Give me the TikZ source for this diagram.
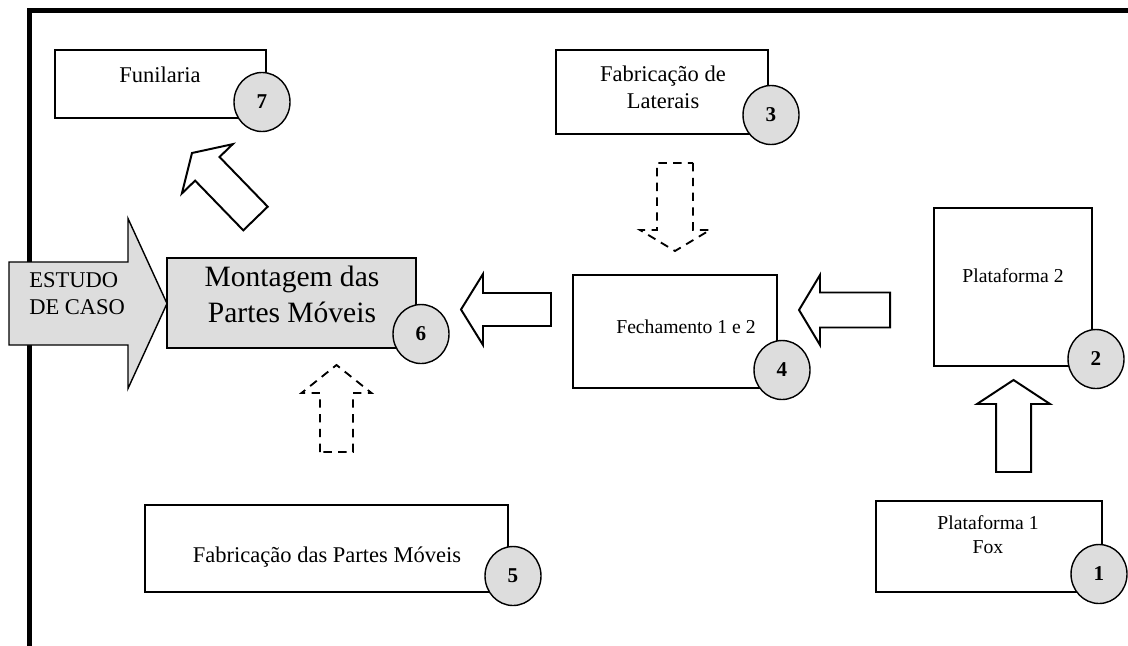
\documentclass[tikz,border=0pt]{standalone}
\usepackage{fontspec}
\setmainfont{Liberation Serif}
\usetikzlibrary{calc,shapes.geometric}

\definecolor{cellgray}{RGB}{221,221,221}
\def\pxu{0.025cm}

% block arrow: [style]{tail}{tip}{shaft half width}{head half width}{head length}
\newcommand{\blockarrow}[6][]{%
  \coordinate (ba-neck) at ($(#3)!#6*\pxu!(#2)$);
  \draw[#1] ($(#2)!#4*\pxu!90:(#3)$) -- ($(ba-neck)!#4*\pxu!90:(#3)$)
    -- ($(ba-neck)!#5*\pxu!90:(#3)$) -- (#3)
    -- ($(ba-neck)!#5*\pxu!-90:(#3)$) -- ($(ba-neck)!#4*\pxu!-90:(#3)$)
    -- ($(#2)!#4*\pxu!-90:(#3)$) -- cycle;
}

\begin{document}
\begin{tikzpicture}[x=\pxu, y=-\pxu,
    procbox/.style={draw, line width=0.9pt, inner sep=0pt, outer sep=0pt},
    stepnum/.style={ellipse, draw, line width=1pt, fill=cellgray, inner sep=0pt,
      minimum width=56*\pxu, minimum height=59*\pxu,
      font=\fontsize{15}{17}\selectfont\bfseries},
    fatarrow/.style={draw, fill=white, line width=1.4pt},
    dasharrow/.style={draw, line width=1.3pt, dash pattern=on 6pt off 4.5pt},
    bigtext/.style={inner sep=0pt, anchor=base, font=\fontsize{16}{18.5}\selectfont},
    smalltext/.style={inner sep=0pt, anchor=base, font=\fontsize{14}{16.4}\selectfont}]
    \useasboundingbox (0,0) rectangle (1128,645);

    % Draw the frame
    \draw[line width=3.6pt] (29.5,660) -- (29.5,10.5) -- (1140,10.5);

    % Case study arrow
    \coordinate (est-s) at (9,303.5);
    \coordinate (est-e) at (167,303.5);
    \blockarrow[draw, fill=cellgray, line width=1pt]{est-s}{est-e}{41.5}{85}{39}
    \node[inner sep=0pt, anchor=base west, align=left, font=\fontsize{16}{19.2}\selectfont] (estudo) at (29,314) {ESTUDO\\DE CASO};

    % Boxes
    \node[procbox, minimum width=211*\pxu, minimum height=68*\pxu] (funil) at (160.5,84) {};
    \node[procbox, minimum width=212*\pxu, minimum height=84*\pxu] (lat) at (662,92) {};
    \node[procbox, minimum width=204*\pxu, minimum height=113*\pxu] (fech) at (675,331.5) {};
    \node[procbox, minimum width=158*\pxu, minimum height=158*\pxu] (plat2) at (1013,287) {};
    \node[procbox, minimum width=226*\pxu, minimum height=91*\pxu] (plat1) at (989,546.5) {};
    \node[procbox, minimum width=363*\pxu, minimum height=87*\pxu] (fabpm) at (326.5,548.5) {};
    \node[procbox, fill=cellgray, minimum width=249*\pxu, minimum height=90*\pxu] (mont) at (291.5,303) {};

    % Box texts (multi-line nodes sit on their last baseline)
    \node[bigtext] (funil-t) at (160,82) {Funilaria};
    \node[bigtext, align=center] (lat-t) at (663,108) {Fabricação de\\Laterais};
    \node[smalltext] (fech-t) at (686,333) {Fechamento 1 e 2};
    \node[smalltext] (plat2-t) at (1013,282) {Plataforma 2};
    \node[smalltext, align=center] (plat1-t) at (988,553) {Plataforma 1\\Fox};
    \node[bigtext] (fabpm-t) at (327,562) {Fabricação das Partes Móveis};
    \node[inner sep=0pt, anchor=base, align=center, font=\fontsize{21}{24.9}\selectfont] (mont-t) at (292,322) {Montagem das\\Partes Móveis};

    % Step numbers
    \node[stepnum] (n7) at (262,102) {7};
    \node[stepnum] (n3) at (771,115) {3};
    \node[stepnum] (n4) at (782,370) {4};
    \node[stepnum] (n2) at (1096,359) {2};
    \node[stepnum] (n1) at (1099,574) {1};
    \node[stepnum] (n5) at (513,576) {5};
    \node[stepnum] (n6) at (421,334) {6};

    % Flow arrows
    \coordinate (a12-s) at (1013.5,472);
    \coordinate (a12-e) at (1013.5,380);
    \coordinate (a24-s) at (890,310);
    \coordinate (a24-e) at (799,310);
    \coordinate (a46-s) at (551,309.5);
    \coordinate (a46-e) at (461,309.5);
    \coordinate (a34-s) at (675,163);
    \coordinate (a34-e) at (675,251);
    \coordinate (a56-s) at (336.5,452);
    \coordinate (a56-e) at (336.5,365);
    \coordinate (a67-s) at (255.5,218.5);
    \coordinate (a67-e) at (192,153);

    \blockarrow[fatarrow]{a12-s}{a12-e}{17.5}{36.5}{24}
    \blockarrow[fatarrow]{a24-s}{a24-e}{17.5}{35}{21}
    \blockarrow[fatarrow]{a46-s}{a46-e}{16.5}{35.5}{22}
    \blockarrow[fatarrow]{a67-s}{a67-e}{17}{35.4}{22}
    \blockarrow[dasharrow]{a34-s}{a34-e}{18}{35}{21}
    \blockarrow[dasharrow]{a56-s}{a56-e}{16.5}{35}{28}
\end{tikzpicture}
\end{document}
